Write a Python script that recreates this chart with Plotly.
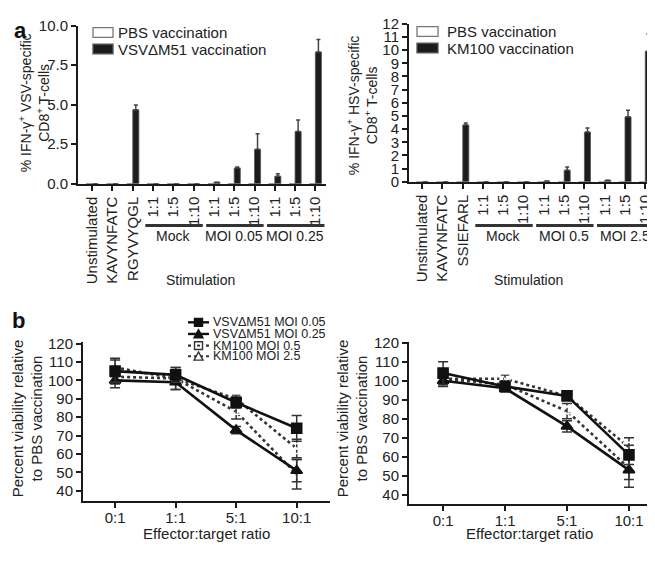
import plotly.graph_objects as go

# The page body adds an 8px margin; design in reference pixels and offset by it.
W, H = 655, 561
OFF = 8
FW, FH = W - OFF, H - OFF
FONT = "Liberation Sans, Arial, sans-serif"
TXT = "#222222"

# ---------------- Panel a data ----------------
positions_a = [0, 1, 2, 3, 4, 5, 6, 7, 8, 9, 10, 11]
labels_left = ["Unstimulated", "KAVYNFATC", "RGYVYQGL", "1:1", "1:5", "1:10",
               "1:1", "1:5", "1:10", "1:1", "1:5", "1:10"]
labels_right = ["Unstimulated", "KAVYNFATC", "SSIEFARL", "1:1", "1:5", "1:10",
                "1:1", "1:5", "1:10", "1:1", "1:5", "1:10"]
groups_left = ["Mock", "MOI 0.05", "MOI 0.25"]
groups_right = ["Mock", "MOI 0.5", "MOI 2.5"]
group_centers = [4, 7, 10]

pbs_left = [0, 0, 0, 0, 0, 0, 0, 0, 0, 0, 0, 0]
vsv_vals = [0, 0, 4.68, 0, 0, 0, 0.1, 1.0, 2.18, 0.48, 3.31, 8.34]
vsv_err = [0, 0, 0.3, 0, 0, 0, 0, 0.05, 0.99, 0.15, 0.73, 0.79]

pbs_right = [0, 0, 0, 0, 0, 0, 0, 0, 0, 0, 0, 0]
km_vals = [0, 0, 4.32, 0, 0, 0, 0.06, 0.88, 3.78, 0.12, 4.93, 9.92]
km_err = [0, 0, 0.15, 0, 0, 0, 0, 0.25, 0.3, 0, 0.5, 1.3]
zero_err = [0, 0, 0, 0, 0, 0, 0, 0, 0, 0, 0, 0]

# ---------------- Panel b data ----------------
positions_b = [0, 1, 2, 3]
ratios = ["0:1", "1:1", "5:1", "10:1"]
series_names = ["VSVΔM51 MOI 0.05", "VSVΔM51 MOI 0.25", "KM100 MOI 0.5", "KM100 MOI 2.5"]

left_vsv005 = [105, 103, 88, 74]
left_vsv005_err = [6, 4, 3, 7]
left_vsv025 = [100, 99, 73, 51]
left_vsv025_err = [4, 4, 2, 6]
left_km05 = [107, 101, 90, 63]
left_km05_err = [5, 3, 2, 5]
left_km25 = [102, 101, 83, 49]
left_km25_err = [4, 6, 4, 8]

right_vsv005 = [104, 97, 92, 61]
right_vsv005_err = [6, 2, 2, 5]
right_vsv025 = [100, 96, 76, 53]
right_vsv025_err = [3, 2, 3, 9]
right_km05 = [101, 101, 92, 65]
right_km05_err = [3, 2, 2, 5]
right_km25 = [101, 98, 84, 54]
right_km25_err = [3, 2, 4, 6]


def px(x):
    return (x - OFF) / FW


def py(y):
    return 1 - (y - OFF) / FH


fig = go.Figure()

BLACK = "#1c1c1c"

# ---- top-left bars
fig.add_trace(go.Bar(x=positions_a, y=pbs_left, width=0.3, offset=-0.3,
                     marker=dict(color="white", line=dict(color="#777", width=1.2)),
                     xaxis="x", yaxis="y", showlegend=False, name="PBS vaccination"))
fig.add_trace(go.Bar(x=positions_a, y=vsv_vals, width=0.3, offset=0,
                     marker=dict(color=BLACK, line=dict(color="#555", width=0.8)),
                     error_y=dict(type="data", array=vsv_err, arrayminus=zero_err, symmetric=False,
                                  color="#444", thickness=1.5, width=2),
                     xaxis="x", yaxis="y", showlegend=False, name="VSVΔM51 vaccination"))
# ---- top-right bars
fig.add_trace(go.Bar(x=positions_a, y=pbs_right, width=0.3, offset=-0.3,
                     marker=dict(color="white", line=dict(color="#777", width=1.2)),
                     xaxis="x2", yaxis="y2", showlegend=False, name="PBS vaccination"))
fig.add_trace(go.Bar(x=positions_a, y=km_vals, width=0.3, offset=0,
                     marker=dict(color=BLACK, line=dict(color="#555", width=0.8)),
                     error_y=dict(type="data", array=km_err, arrayminus=zero_err, symmetric=False,
                                  color="#444", thickness=1.5, width=2),
                     xaxis="x2", yaxis="y2", showlegend=False, name="KM100 vaccination"))

# ---- bottom line charts
styles = [
    dict(symbol="square", dash="solid", color="#111111"),
    dict(symbol="triangle-up", dash="solid", color="#111111"),
    dict(symbol="square-open-dot", dash="dot", color="#333333"),
    dict(symbol="triangle-up-open", dash="dot", color="#333333"),
]
left_series = [(left_vsv005, left_vsv005_err), (left_vsv025, left_vsv025_err),
               (left_km05, left_km05_err), (left_km25, left_km25_err)]
right_series = [(right_vsv005, right_vsv005_err), (right_vsv025, right_vsv025_err),
                (right_km05, right_km05_err), (right_km25, right_km25_err)]

for axes, series in ((("x3", "y3"), left_series), (("x4", "y4"), right_series)):
    for i in (3, 2, 1, 0):
        vals, err = series[i]
        st = styles[i]
        fig.add_trace(go.Scatter(
            x=positions_b, y=vals, mode="lines+markers", name=series_names[i],
            line=dict(color=st["color"], width=2.6, dash=st["dash"]),
            marker=dict(symbol=st["symbol"], size=10,
                        color=st["color"] if "open" not in st["symbol"] else "white",
                        line=dict(color=st["color"], width=1.6)),
            error_y=dict(type="data", array=err, color="#333", thickness=1.5, width=5),
            xaxis=axes[0], yaxis=axes[1], showlegend=False))

axis_common = dict(showline=True, linecolor="#1a1a1a", linewidth=2, ticks="outside",
                   ticklen=5, tickwidth=2, tickcolor="#1a1a1a", showgrid=False, zeroline=False,
                   tickfont=dict(family=FONT, size=15, color=TXT))

fig.update_layout(
    width=FW, height=FH, margin=dict(l=0, r=0, t=0, b=0), autosize=False,
    paper_bgcolor="white", plot_bgcolor="white", barmode="overlay",
    font=dict(family=FONT, color=TXT),
    xaxis=dict(domain=[px(78), px(325.5)], range=[-0.7, 11.5], anchor="y",
               tickmode="array", tickvals=positions_a, ticktext=labels_left, tickangle=-90, **axis_common),
    yaxis=dict(domain=[py(180), py(17)], range=[0, 10], anchor="x",
               tickmode="array", tickvals=[0, 2.5, 5, 7.5, 10], tickformat=".1f", **axis_common),
    xaxis2=dict(domain=[px(409), 1.0], range=[-0.65, 11.48], anchor="y2",
                tickmode="array", tickvals=positions_a, ticktext=labels_right, tickangle=-90, **axis_common),
    yaxis2=dict(domain=[py(178), py(15)], range=[0, 12], anchor="x2", dtick=1, tick0=0, **axis_common),
    xaxis3=dict(domain=[px(83), px(330)], range=[-0.53, 3.55], anchor="y3", ticklabelstandoff=-3,
                tickmode="array", tickvals=positions_b, ticktext=ratios, **axis_common),
    yaxis3=dict(domain=[py(507), py(343)], range=[34.7, 121], anchor="x3", dtick=10, tick0=0, **axis_common),
    xaxis4=dict(domain=[px(409), 1.0], range=[-0.55, 3.42], anchor="y4", ticklabelstandoff=-3,
                tickmode="array", tickvals=positions_b, ticktext=ratios, **axis_common),
    yaxis4=dict(domain=[py(510), py(343)], range=[35.4, 120.5], anchor="x4", dtick=10, tick0=0, **axis_common),
)

shapes = []
annotations = []

# group brackets and labels
for xa, groups in (("x", groups_left), ("x2", groups_right)):
    for c, g in zip(group_centers, groups):
        shapes.append(dict(type="line", xref=xa, yref="paper", x0=c - 1.38, x1=c + 1.45,
                           y0=py(223), y1=py(223), line=dict(color="#333", width=3)))
        annotations.append(dict(x=c, y=py(234), xref=xa, yref="paper", text=g, showarrow=False,
                                font=dict(family=FONT, size=14, color=TXT), xanchor="center", yanchor="middle"))


def ann(x, y, text, size=14, angle=0, bold=False, xanchor="center"):
    annotations.append(dict(x=px(x), y=py(y), xref="paper", yref="paper", text=text, showarrow=False,
                            textangle=angle, xanchor=xanchor, yanchor="middle",
                            font=dict(family=FONT, size=size, color="#111" if bold else TXT)))


ann(200, 279, "Stimulation", 14)
ann(528, 279, "Stimulation", 14)
ann(34, 97, "% IFN-γ<sup>+</sup> VSV-specific<br>CD8<sup>+</sup> T-cells", 14, -90)
ann(362, 99, "% IFN-γ<sup>+</sup> HSV-specific<br>CD8<sup>+</sup> T-cells", 14, -90)
ann(27, 422, "Percent viability relative<br>to PBS vaccination", 15, -90)
ann(352, 422, "Percent viability relative<br>to PBS vaccination", 15, -90)
ann(206, 541, "Effector:target ratio", 15)
ann(529, 541, "Effector:target ratio", 15)
ann(20, 22, "<b>a</b>", 22, bold=True)
ann(18, 321, "<b>b</b>", 22, bold=True)

# top legends (manual)
for (bx0, bx1, tx, rows) in ((93, 113, 116, [(19, 29, 24, "PBS vaccination", False),
                                              (36, 46, 42, "VSVΔM51 vaccination", True)]),
                             (417, 438, 445, [(18, 28, 23, "PBS vaccination", False),
                                              (35, 45, 40, "KM100 vaccination", True)])):
    for (y0, y1, yt, label, filled) in rows:
        shapes.append(dict(type="rect", xref="paper", yref="paper", x0=px(bx0), x1=px(bx1),
                           y0=py(y1), y1=py(y0),
                           fillcolor=BLACK if filled else "white",
                           line=dict(color="#555" if filled else "#777", width=1.3)))
        ann(tx, yt, label, 15, xanchor="left")

# bottom legend (manual)
leg_rows = [323, 335, 347, 358]
for i, yy in enumerate(leg_rows):
    st = styles[i]
    shapes.append(dict(type="line", xref="paper", yref="paper", x0=px(188), x1=px(209),
                       y0=py(yy), y1=py(yy),
                       line=dict(color=st["color"], width=2.4 if st["dash"] == "solid" else 2.2,
                                 dash="solid" if st["dash"] == "solid" else "dot")))
    cx = 198.5
    s = 4
    if st["symbol"].startswith("square"):
        shapes.append(dict(type="rect", xref="paper", yref="paper", x0=px(cx - s), x1=px(cx + s),
                           y0=py(yy + s), y1=py(yy - s),
                           fillcolor=st["color"] if "open" not in st["symbol"] else "white",
                           line=dict(color=st["color"], width=1.4)))
        if "dot" in st["symbol"]:
            shapes.append(dict(type="rect", xref="paper", yref="paper", x0=px(cx - 1.5), x1=px(cx + 1.5),
                               y0=py(yy + 1), y1=py(yy - 1), fillcolor="#333", line=dict(width=0)))
    else:
        path = "M {} {} L {} {} L {} {} Z".format(px(cx - s - 0.5), py(yy + s), px(cx + s + 0.5), py(yy + s),
                                                 px(cx), py(yy - s - 0.5))
        shapes.append(dict(type="path", xref="paper", yref="paper", path=path,
                           fillcolor=st["color"] if "open" not in st["symbol"] else "white",
                           line=dict(color=st["color"], width=1.4)))
    ann(211, yy, series_names[i], 12.5, xanchor="left")

fig.update_layout(shapes=shapes, annotations=annotations)
fig.write_html("out.html")
